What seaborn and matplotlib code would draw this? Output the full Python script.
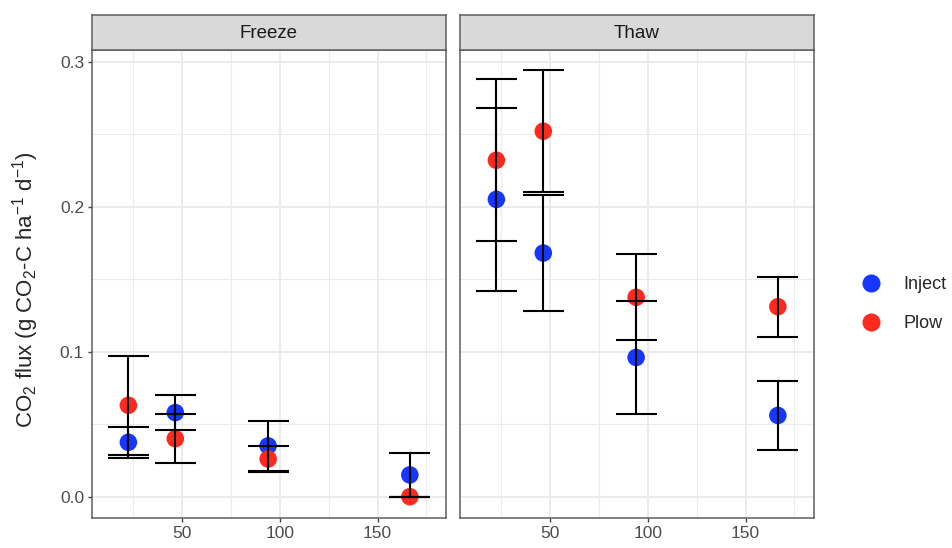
import numpy as np
import pandas as pd
import seaborn as sns
import matplotlib.pyplot as plt
from matplotlib.lines import Line2D

sns.set_style("white")
plt.rcParams['font.family'] = ['Liberation Sans', 'DejaVu Sans']
plt.rcParams['mathtext.default'] = 'regular'

# datos
periods = ["Freeze", "Thaw"]
days = [22.5, 46.5, 94, 166.5]
treatments = ["Inject", "Plow"]

freeze_inject = [0.0375, 0.058, 0.035, 0.015]
freeze_inject_se = [0.0105, 0.012, 0.017, 0.015]
freeze_plow = [0.063, 0.040, 0.026, 0.0]
freeze_plow_se = [0.034, 0.017, 0.0087, 0.0]

thaw_inject = [0.205, 0.168, 0.096, 0.056]
thaw_inject_se = [0.063, 0.040, 0.0387, 0.024]
thaw_plow = [0.232, 0.252, 0.1375, 0.131]
thaw_plow_se = [0.0557, 0.042, 0.0297, 0.0207]

bar_width = 21

rows = []
vals = {("Freeze", "Inject"): (freeze_inject, freeze_inject_se),
        ("Freeze", "Plow"): (freeze_plow, freeze_plow_se),
        ("Thaw", "Inject"): (thaw_inject, thaw_inject_se),
        ("Thaw", "Plow"): (thaw_plow, thaw_plow_se)}
for (p, t), (m, se) in vals.items():
    for d, mm, ss in zip(days, m, se):
        rows.append({"Period": p, "Treatment": t, "Day": d, "Flux": mm, "SE": ss})
df = pd.DataFrame(rows)

colores = {"Inject": "#1537ff", "Plow": "#ff2a1f"}
borde = "#5e5e5e"

fig = plt.figure(figsize=(9.53, 5.48), dpi=100)
W, H = 953, 548
left_x = [92, 460]
pw = 354
ptop, pbot = 50, 518
strip_top = 15

axes = []
for i, p in enumerate(periods):
    ax = fig.add_axes([left_x[i] / W, 1 - pbot / H, pw / W, (pbot - ptop) / H],
                      sharey=axes[0] if axes else None)
    axes.append(ax)
    sub = df[df.Period == p]
    # cuadricula
    ax.set_xlim(3.9, 185)
    ax.set_ylim(-0.0147, 0.308)
    ax.set_xticks([50, 100, 150])
    ax.set_xticks([25, 75, 125, 175], minor=True)
    ax.set_yticks([0.0, 0.1, 0.2, 0.3])
    ax.set_yticks([0.05, 0.15, 0.25], minor=True)
    ax.grid(True, which="major", color="#ebebeb", lw=1.4)
    ax.grid(True, which="minor", color="#ebebeb", lw=0.8)
    ax.set_axisbelow(True)

    sns.scatterplot(data=sub, x="Day", y="Flux", hue="Treatment", hue_order=treatments,
                    palette=colores, s=160, edgecolor="none", ax=ax, legend=False, zorder=3)
    lo = sub.Flux - sub.SE
    hi = sub.Flux + sub.SE
    ax.vlines(sub.Day, lo, hi, color="black", lw=1.5, zorder=4)
    ax.hlines(lo, sub.Day - bar_width / 2, sub.Day + bar_width / 2, color="black", lw=1.5, zorder=4)
    ax.hlines(hi, sub.Day - bar_width / 2, sub.Day + bar_width / 2, color="black", lw=1.5, zorder=4)

    for s in ax.spines.values():
        s.set_color(borde)
        s.set_linewidth(1.1)
    ax.tick_params(axis="both", which="major", length=3.2, width=1.0, color="#444444",
                   labelcolor="#4d4d4d", labelsize=12.5, pad=2.5, bottom=True, left=(i == 0))
    ax.tick_params(axis="both", which="minor", length=0)
    ax.set_xlabel("")
    ax.set_ylabel("")
    if i > 0:
        ax.tick_params(labelleft=False)
    else:
        ax.yaxis.set_major_formatter(plt.FormatStrFormatter("%.1f"))

    # tira del facet
    sax = fig.add_axes([left_x[i] / W, 1 - ptop / H, pw / W, (ptop - strip_top) / H])
    sax.set_facecolor("#d9d9d9")
    sax.set_xticks([])
    sax.set_yticks([])
    for s in sax.spines.values():
        s.set_color(borde)
        s.set_linewidth(1.1)
    sax.text(0.5, 0.47, p, ha="center", va="center", fontsize=13.5, color="#1a1a1a",
             transform=sax.transAxes)

fig.text(26 / W, 1 - 290 / H, r"CO$_2$ flux (g CO$_2$-C ha$^{-1}$ d$^{-1}$)",
         rotation=90, ha="center", va="center", fontsize=16)

handles = [Line2D([], [], marker="o", ls="", markersize=13, markerfacecolor=colores[t],
                  markeredgecolor="none") for t in treatments]
fig.legend(handles, treatments, loc="center left", bbox_to_anchor=(857 / W, 1 - 304 / H),
           frameon=False, fontsize=13, handletextpad=0.95, labelspacing=1.2,
           handlelength=1.6, borderpad=0, borderaxespad=0)

fig.savefig("out.png", dpi=100)
